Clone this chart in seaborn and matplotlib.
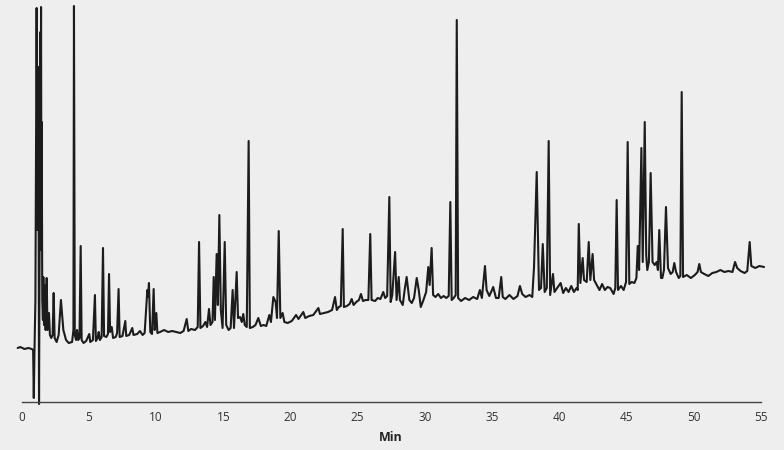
import matplotlib
matplotlib.use("Agg")
import matplotlib.pyplot as plt
import seaborn as sns
import pandas as pd

# Retention time (min) and detector signal (arbitrary units)
trace_min = [
    -0.30, -0.10, 0.20, 0.50, 0.75, 0.85, 0.90, 0.95, 1.02, 1.11, 1.18, 1.24, 1.29, 1.39, 1.41, 1.44,
    1.47, 1.49, 1.53, 1.58, 1.61, 1.66, 1.72, 1.78, 1.86, 1.92, 1.97, 2.03, 2.10, 2.20, 2.30, 2.38,
    2.45, 2.60, 2.75, 2.92, 3.10, 3.30, 3.50, 3.75, 3.85, 3.89, 3.95, 4.05, 4.12, 4.20, 4.30, 4.39,
    4.46, 4.60, 4.80, 5.03, 5.10, 5.30, 5.45, 5.52, 5.65, 5.73, 5.82, 5.95, 6.05, 6.13, 6.30, 6.42,
    6.50, 6.58, 6.70, 6.80, 7.00, 7.10, 7.21, 7.29, 7.50, 7.71, 7.78, 8.00, 8.23, 8.32, 8.60, 8.80,
    9.00, 9.15, 9.30, 9.35, 9.40, 9.47, 9.57, 9.70, 9.82, 9.90, 10.02, 10.10, 10.30, 10.60, 10.90,
    11.20, 11.50, 11.80, 12.05, 12.28, 12.40, 12.60, 12.90, 13.10, 13.20, 13.30, 13.50, 13.67, 13.80,
    13.94, 14.05, 14.20, 14.29, 14.38, 14.51, 14.60, 14.71, 14.82, 14.95, 15.11, 15.22, 15.40, 15.55,
    15.70, 15.80, 16.00, 16.10, 16.25, 16.38, 16.49, 16.60, 16.75, 16.89, 16.98, 17.20, 17.40, 17.61,
    17.80, 18.00, 18.20, 18.43, 18.55, 18.73, 18.90, 19.00, 19.13, 19.25, 19.42, 19.55, 19.80, 20.10,
    20.42, 20.60, 20.96, 21.10, 21.40, 21.70, 22.08, 22.20, 22.50, 22.80, 23.10, 23.32, 23.45, 23.60,
    23.75, 23.89, 23.98, 24.20, 24.40, 24.56, 24.70, 24.90, 25.10, 25.25, 25.40, 25.60, 25.80, 25.94,
    26.04, 26.30, 26.50, 26.70, 26.91, 27.05, 27.20, 27.36, 27.46, 27.58, 27.79, 27.90, 28.06, 28.15,
    28.36, 28.50, 28.65, 28.85, 29.03, 29.20, 29.40, 29.55, 29.70, 29.90, 30.10, 30.26, 30.36, 30.51,
    30.62, 30.80, 31.00, 31.20, 31.40, 31.60, 31.78, 31.90, 32.00, 32.15, 32.30, 32.38, 32.48, 32.70,
    33.00, 33.30, 33.60, 33.90, 34.10, 34.25, 34.48, 34.60, 34.80, 35.00, 35.09, 35.30, 35.50, 35.69,
    35.80, 36.00, 36.30, 36.60, 36.90, 37.08, 37.25, 37.50, 37.80, 38.00, 38.13, 38.33, 38.50, 38.65,
    38.78, 38.92, 39.08, 39.22, 39.33, 39.54, 39.65, 39.85, 40.11, 40.30, 40.50, 40.70, 40.90, 41.10,
    41.30, 41.38, 41.46, 41.58, 41.75, 41.85, 42.05, 42.20, 42.32, 42.49, 42.60, 42.80, 43.00, 43.20,
    43.40, 43.60, 43.80, 44.05, 44.18, 44.28, 44.38, 44.60, 44.80, 44.98, 45.10, 45.22, 45.40, 45.60,
    45.75, 45.85, 45.95, 46.12, 46.22, 46.37, 46.48, 46.56, 46.68, 46.81, 46.95, 47.11, 47.26, 47.35,
    47.45, 47.58, 47.68, 47.80, 47.95, 48.10, 48.30, 48.45, 48.57, 48.70, 48.90, 49.02, 49.12, 49.22,
    49.50, 49.80, 50.10, 50.30, 50.43, 50.55, 50.80, 51.10, 51.40, 51.70, 52.00, 52.30, 52.60, 52.90,
    53.09, 53.25, 53.50, 53.80, 54.00, 54.18, 54.30, 54.60, 54.90, 55.25,
]
trace_signal = [
    54, 55, 53, 54, 53, 52, 4, 50, 102, 394, 172, 335, -2, 370, 202, 395,
    152, 280, 102, 82, 125, 77, 117, 72, 124, 72, 82, 89, 67, 64, 67, 109,
    64, 60, 67, 102, 72, 62, 59, 60, 72, 396, 67, 62, 72, 62, 64, 156,
    62, 59, 61, 68, 60, 62, 107, 61, 64, 70, 62, 65, 154, 66, 65, 68,
    128, 70, 75, 64, 65, 69, 113, 65, 66, 81, 66, 67, 74, 67, 68, 71,
    67, 69, 102, 112, 105, 119, 70, 68, 113, 72, 89, 69, 70, 72, 70,
    71, 70, 69, 71, 83, 71, 73, 72, 75, 160, 74, 76, 80, 75,
    93, 77, 80, 125, 82, 148, 97, 187, 92, 74, 160, 77, 72, 74,
    112, 74, 130, 84, 85, 80, 88, 77, 75, 261, 74, 75, 77, 84,
    76, 77, 76, 87, 80, 105, 100, 84, 171, 84, 89, 80, 79, 81,
    87, 83, 90, 84, 86, 87, 94, 88, 89, 90, 92, 105, 92, 95,
    96, 173, 95, 96, 98, 103, 97, 100, 102, 108, 101, 102, 102, 168,
    102, 101, 104, 103, 110, 104, 106, 205, 100, 107, 150, 102, 125, 102,
    97, 112, 125, 102, 99, 104, 124, 112, 95, 102, 110, 135, 117, 154,
    107, 105, 108, 104, 106, 104, 106, 200, 102, 104, 107, 382, 104, 101,
    104, 102, 105, 103, 112, 104, 136, 112, 106, 112, 115, 104, 104, 125,
    105, 103, 107, 103, 106, 116, 108, 105, 107, 105, 135, 230, 112, 114,
    158, 110, 114, 261, 107, 128, 110, 114, 119, 109, 114, 110, 116, 110,
    114, 112, 178, 119, 144, 122, 120, 160, 122, 148, 122, 117, 112, 118,
    112, 115, 114, 108, 114, 202, 112, 116, 112, 120, 260, 118, 120, 119,
    124, 156, 132, 254, 140, 280, 147, 132, 140, 229, 140, 137, 140, 132,
    172, 124, 124, 132, 195, 134, 128, 130, 139, 130, 124, 126, 310, 125,
    127, 124, 127, 130, 138, 130, 128, 126, 129, 130, 132, 130, 131, 130,
    140, 134, 131, 129, 131, 160, 136, 134, 136, 135,
]
x_ticks = [0, 5, 10, 15, 20, 25, 30, 35, 40, 45, 50, 55]
x_label = "Min"

df = pd.DataFrame({"min": trace_min, "signal": trace_signal})

sns.set_theme(style="white")
plt.rcParams["font.family"] = ["Open Sans", "DejaVu Sans"]

bg = "#eeeeee"
fig = plt.figure(figsize=(7.84, 4.5), dpi=100, facecolor=bg)
ax = fig.add_axes([21.7 / 784, 1 - 402 / 450, 739 / 784, 402 / 450])
ax.set_facecolor(bg)

sns.lineplot(data=df, x="min", y="signal", sort=False, estimator=None,
             color="#1c1c1c", linewidth=1.5, ax=ax)
for ln in ax.lines:
    ln.set_clip_on(False)

ax.set_xlim(0, 55)
ax.set_ylim(0, 402)
ax.set_xticks(x_ticks)
ax.set_xticklabels([str(t) for t in x_ticks])
ax.set_yticks([])
ax.set_ylabel("")
ax.set_xlabel(x_label, fontsize=9, fontweight="bold", color="#222222", labelpad=5)

for s in ["top", "right", "left"]:
    ax.spines[s].set_visible(False)
ax.spines["bottom"].set_color("#444444")
ax.spines["bottom"].set_linewidth(1.0)
ax.tick_params(axis="x", direction="inout", length=3.5, width=1.0, color="#444444",
               labelsize=8.5, labelcolor="#333333", pad=5)

fig.savefig("out.png", dpi=100, facecolor=bg)
